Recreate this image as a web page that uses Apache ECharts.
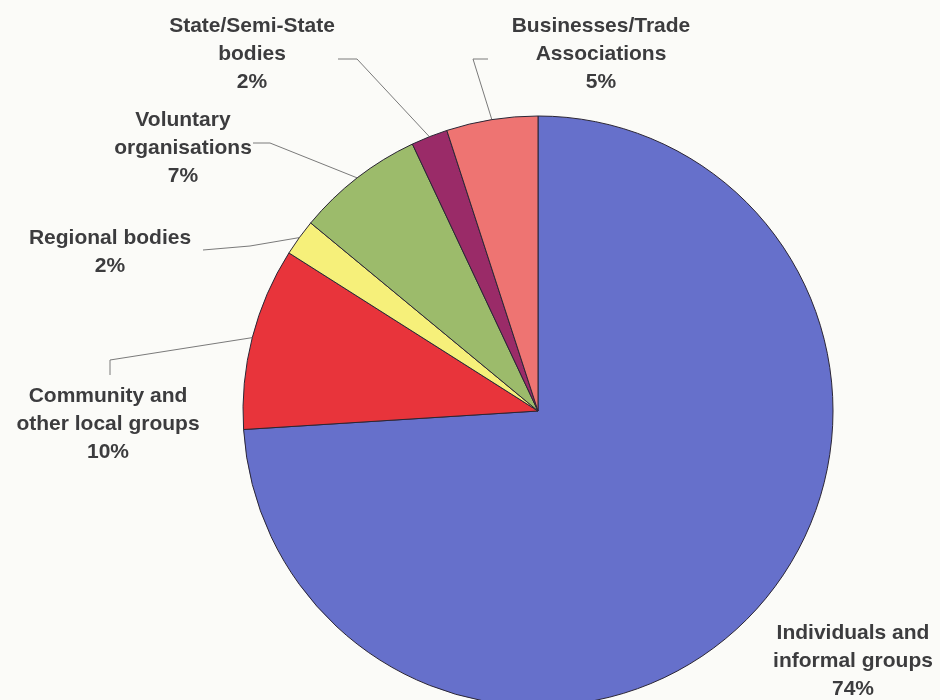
<!DOCTYPE html>
<html>
<head>
<meta charset="utf-8">
<script src="https://cdn.jsdelivr.net/npm/echarts@6/dist/echarts.min.js"></script>
<style>
  html, body { margin: 0; padding: 0; background: #fbfbf8; }
  #chart { width: 940px; height: 700px; }
</style>
</head>
<body>
<div id="chart"></div>
<script>
// Groups, clockwise from twelve o'clock
var groupNames = [
  'Individuals and\ninformal groups',
  'Community and\nother local groups',
  'Regional bodies',
  'Voluntary\norganisations',
  'State/Semi-State\nbodies',
  'Businesses/Trade\nAssociations'
];
var groupShares = [74, 10, 2, 7, 2, 5];
var sliceColors = ['#6670cb', '#e8343b', '#f6f07a', '#9cbb6b', '#9a2b68', '#ee7472'];

// Where each label block sits, and the bends of its leader line
var labelPlacement = [
  { x: 853, y: 661, line: null },
  { x: 108, y: 424, line: [[110, 360], [110, 375]] },
  { x: 110, y: 252, line: [[250, 246], [203, 250]] },
  { x: 183, y: 148, line: [[270, 143], [253, 143]] },
  { x: 252, y: 54,  line: [[357, 59], [338, 59]] },
  { x: 601, y: 54,  line: [[473, 59], [488, 59]] }
];

var seriesData = groupNames.map(function (n, i) {
  return {
    name: n,
    value: groupShares[i],
    itemStyle: { color: sliceColors[i] },
    labelLine: { show: labelPlacement[i].line !== null }
  };
});

var chart = echarts.init(document.getElementById('chart'), null, { renderer: 'canvas' });
chart.setOption({
  backgroundColor: '#fbfbf8',
  animation: false,
  series: [{
    type: 'pie',
    center: [538, 411],
    radius: 295,
    startAngle: 90,
    clockwise: true,
    data: seriesData,
    itemStyle: { borderColor: '#2b2635', borderWidth: 1 },
    label: {
      show: true,
      formatter: '{b}\n{d}%',
      fontFamily: 'Liberation Sans, Arial, sans-serif',
      fontWeight: 'bold',
      fontSize: 21,
      lineHeight: 28,
      color: '#3c3c3e',
      align: 'center',
      overflow: 'none'
    },
    labelLine: {
      show: true,
      length: 10,
      length2: 10,
      lineStyle: { color: '#7a7a7a', width: 1 }
    },
    labelLayout: function (params) {
      var p = labelPlacement[params.dataIndex];
      var out = { x: p.x, y: p.y, align: 'center', verticalAlign: 'middle' };
      if (p.line && params.labelLinePoints) {
        out.labelLinePoints = [params.labelLinePoints[0], p.line[0], p.line[1]];
      }
      return out;
    }
  }]
});
</script>
</body>
</html>
